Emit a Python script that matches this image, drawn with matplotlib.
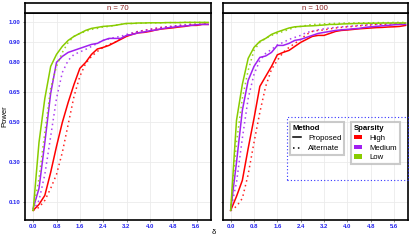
import matplotlib
matplotlib.use("Agg")
import matplotlib.pyplot as plt
from matplotlib.lines import Line2D
from matplotlib.patches import Patch, Rectangle

plt.rcParams["font.family"] = ["Liberation Sans", "DejaVu Sans"]

# -----------------------
# DATA
# -----------------------
delta = [0.0, 0.2, 0.4, 0.6, 0.8, 1.0, 1.2, 1.4, 1.6, 1.8, 2.0, 2.2, 2.4, 2.6, 2.8, 3.0,
         3.2, 3.4, 3.6, 3.8, 4.0, 4.2, 4.4, 4.6, 4.8, 5.0, 5.2, 5.4, 5.6, 5.8, 6.0]

# n = 70
n70_high_prop = [0.06, 0.09, 0.135, 0.25, 0.38, 0.50, 0.60, 0.69, 0.77, 0.80, 0.84, 0.867, 0.875,
                 0.885, 0.90, 0.915, 0.93, 0.94, 0.948, 0.95, 0.955, 0.962, 0.967, 0.97, 0.973,
                 0.977, 0.98, 0.985, 0.985, 0.99, 0.99]
n70_high_alt = [0.06, 0.075, 0.11, 0.17, 0.24, 0.35, 0.49, 0.63, 0.73, 0.795, 0.83, 0.855, 0.875,
                0.89, 0.90, 0.92, 0.935, 0.945, 0.955, 0.96, 0.965, 0.97, 0.975, 0.978, 0.98,
                0.985, 0.985, 0.99, 0.99, 0.99, 0.995]
n70_med_prop = [0.07, 0.17, 0.40, 0.645, 0.80, 0.83, 0.85, 0.86, 0.87, 0.88, 0.89, 0.895, 0.91,
                0.92, 0.92, 0.92, 0.935, 0.94, 0.948, 0.952, 0.958, 0.962, 0.968, 0.973, 0.976,
                0.98, 0.982, 0.985, 0.988, 0.99, 0.99]
n70_med_alt = [0.06, 0.11, 0.24, 0.43, 0.62, 0.75, 0.81, 0.84, 0.852, 0.865, 0.88, 0.895, 0.91,
               0.918, 0.925, 0.93, 0.94, 0.948, 0.955, 0.96, 0.965, 0.97, 0.975, 0.978, 0.982,
               0.985, 0.988, 0.99, 0.99, 0.993, 0.995]
n70_low_prop = [0.06, 0.40, 0.62, 0.78, 0.84, 0.88, 0.91, 0.93, 0.945, 0.96, 0.97, 0.975, 0.98,
                0.982, 0.985, 0.99, 0.995, 0.995, 0.997, 0.997, 0.998, 0.998, 0.998, 0.999, 0.999,
                0.999, 1.0, 1.0, 1.0, 1.0, 1.0]
n70_low_alt = [0.06, 0.22, 0.45, 0.67, 0.78, 0.85, 0.90, 0.93, 0.945, 0.955, 0.965, 0.97, 0.977,
               0.98, 0.985, 0.99, 0.993, 0.995, 0.995, 0.997, 0.997, 0.998, 0.998, 0.999, 0.999,
               0.999, 1.0, 1.0, 1.0, 1.0, 1.0]

# n = 100
n100_high_prop = [0.06, 0.13, 0.21, 0.37, 0.52, 0.68, 0.73, 0.78, 0.838, 0.85, 0.86, 0.88, 0.90,
                  0.915, 0.93, 0.935, 0.935, 0.945, 0.955, 0.96, 0.962, 0.965, 0.968, 0.97, 0.972,
                  0.974, 0.975, 0.977, 0.978, 0.98, 0.985]
n100_high_alt = [0.06, 0.08, 0.12, 0.24, 0.40, 0.55, 0.68, 0.765, 0.81, 0.85, 0.875, 0.895, 0.915,
                 0.94, 0.955, 0.96, 0.962, 0.968, 0.972, 0.975, 0.978, 0.98, 0.983, 0.985, 0.987,
                 0.99, 0.99, 0.992, 0.993, 0.995, 0.995]
n100_med_prop = [0.06, 0.30, 0.56, 0.71, 0.78, 0.825, 0.832, 0.85, 0.885, 0.885, 0.895, 0.91, 0.915,
                 0.925, 0.935, 0.945, 0.95, 0.955, 0.96, 0.963, 0.965, 0.968, 0.97, 0.975, 0.978,
                 0.98, 0.983, 0.985, 0.988, 0.99, 0.99]
n100_med_alt = [0.06, 0.20, 0.42, 0.62, 0.74, 0.81, 0.845, 0.865, 0.887, 0.90, 0.915, 0.925, 0.935,
                0.95, 0.955, 0.963, 0.968, 0.972, 0.975, 0.978, 0.98, 0.982, 0.985, 0.987, 0.99,
                0.99, 0.992, 0.993, 0.995, 0.995, 0.997]
n100_low_prop = [0.06, 0.51, 0.69, 0.82, 0.875, 0.905, 0.92, 0.94, 0.952, 0.962, 0.972, 0.978, 0.98,
                 0.982, 0.983, 0.985, 0.987, 0.99, 0.99, 0.992, 0.993, 0.994, 0.995, 0.995, 0.996,
                 0.996, 0.997, 0.997, 0.997, 0.997, 0.997]
n100_low_alt = [0.06, 0.40, 0.62, 0.76, 0.86, 0.90, 0.92, 0.935, 0.945, 0.955, 0.965, 0.975, 0.98,
                0.985, 0.99, 0.99, 0.993, 0.994, 0.995, 0.996, 0.997, 0.997, 0.998, 0.998, 0.998,
                0.999, 0.999, 0.999, 1.0, 1.0, 1.0]

panel_titles = ["n = 70", "n = 100"]
sparsity = ["High", "Medium", "Low"]
methods = ["Proposed", "Alternate"]
y_ticks = [0.10, 0.30, 0.50, 0.65, 0.80, 0.90, 1.00]
x_ticks = [0.0, 0.8, 1.6, 2.4, 3.2, 4.0, 4.8, 5.6]

panels = [
    {"High": (n70_high_prop, n70_high_alt), "Medium": (n70_med_prop, n70_med_alt),
     "Low": (n70_low_prop, n70_low_alt)},
    {"High": (n100_high_prop, n100_high_alt), "Medium": (n100_med_prop, n100_med_alt),
     "Low": (n100_low_prop, n100_low_alt)},
]

colors = {"High": "#FF0000", "Medium": "#A020F0", "Low": "#88CC00"}
dotted = (0, (1, 2.2))

# -----------------------
# FIGURE
# -----------------------
W, H = 420, 240
fig = plt.figure(figsize=(4.2, 2.4), dpi=100)


def fx(px):
    return px / W


def fy(py):
    return 1 - py / H


panel_left = [25, 222.5]
panel_w = 185.5
top, bottom = 13, 220

for i, data in enumerate(panels):
    l = panel_left[i]
    ax = fig.add_axes([fx(l), fy(bottom), panel_w / W, (bottom - top) / H])
    for s in sparsity:
        prop, alt = data[s]
        ax.plot(delta, prop, color=colors[s], lw=1.1, solid_joinstyle="miter")
        ax.plot(delta, alt, color=colors[s], lw=1.1, linestyle=dotted, alpha=0.85)
    ax.set_xlim(-0.28, 6.08)
    ax.set_ylim(0.012, 1.047)
    ax.set_xticks(x_ticks)
    ax.set_xticklabels([f"{v:.1f}" for v in x_ticks])
    ax.set_yticks(y_ticks)
    if i == 0:
        ax.set_yticklabels([f"{v:.2f}" for v in y_ticks])
    else:
        ax.set_yticklabels([])
    ax.grid(True, color="#ebebeb", lw=0.6)
    ax.set_axisbelow(True)
    ax.tick_params(length=1.5, width=0.5, color="#555555", pad=1.5,
                   labelsize=4.3, labelcolor="#2222ee")
    for lab in ax.get_xticklabels() + ax.get_yticklabels():
        lab.set_fontweight("bold")
    for sp in ax.spines.values():
        sp.set_linewidth(1.2)
        sp.set_color("black")

    # strip on top
    st = fig.add_axes([fx(l), fy(top), panel_w / W, 10 / H])
    st.set_xticks([])
    st.set_yticks([])
    for sp in st.spines.values():
        sp.set_linewidth(1.2)
    st.text(0.5, 0.45, panel_titles[i], ha="center", va="center",
            fontsize=5.6, color="#8B2323", transform=st.transAxes)

fig.text(fx(5), fy(116.5), "Power", rotation=90, ha="center", va="center", fontsize=5.5)
fig.text(fx(214), fy(233), "δ", ha="center", va="center", fontsize=5.5)

# -----------------------
# LEGENDS
# -----------------------
fig.patches.append(Rectangle((fx(286.5), fy(179.5)), (408 - 286.5) / W, (179.5 - 117) / H,
                             transform=fig.transFigure, fill=False, edgecolor="#3333ff",
                             lw=0.8, linestyle=(0, (1, 2))))

method_handles = [Line2D([], [], color="black", lw=1.1),
                  Line2D([], [], color="black", lw=1.1, linestyle=dotted)]
leg1 = fig.legend(method_handles, methods, title="Method", loc="upper left",
                  bbox_to_anchor=(fx(290), fy(122.3)), fontsize=5.6, title_fontsize=5.6,
                  frameon=True, fancybox=False, edgecolor="#bdbdbd", borderaxespad=0,
                  handlelength=1.1, handletextpad=0.9, labelspacing=0.35,
                  borderpad=0.35, alignment="left")
leg1.get_frame().set_linewidth(1.5)
leg1.get_title().set_fontweight("bold")

spars_handles = [Patch(facecolor=colors[s], edgecolor="none") for s in sparsity]
leg2 = fig.legend(spars_handles, sparsity, title="Sparsity", loc="upper left",
                  bbox_to_anchor=(fx(351), fy(122.3)), fontsize=5.6, title_fontsize=5.6,
                  frameon=True, fancybox=False, edgecolor="#bdbdbd", borderaxespad=0,
                  handlelength=1.1, handleheight=0.55, handletextpad=0.9, labelspacing=0.35,
                  borderpad=0.35, alignment="left")
leg2.get_frame().set_linewidth(1.5)
leg2.get_title().set_fontweight("bold")

fig.savefig("out.png", dpi=100)
